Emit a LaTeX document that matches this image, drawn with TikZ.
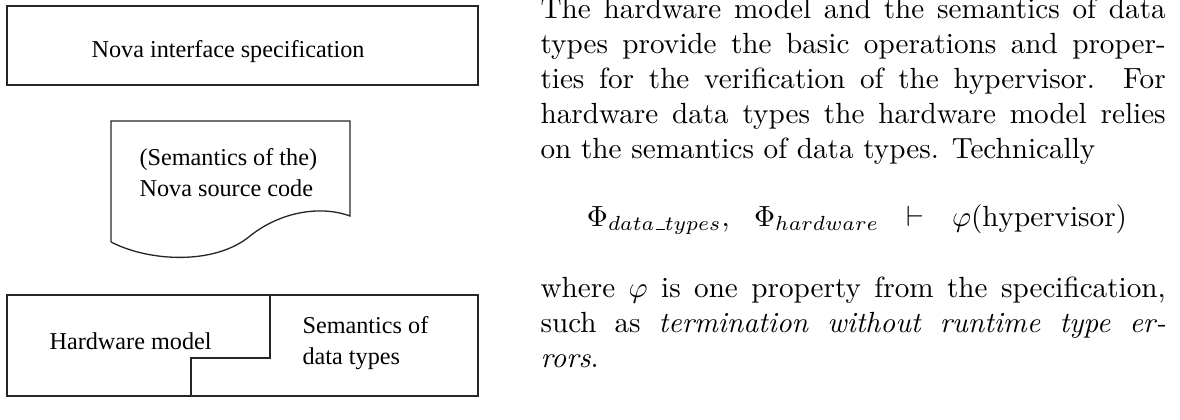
\documentclass[tikz,border=0pt]{standalone}
\usepackage{fontspec}
\newfontfamily\tmsfont{Liberation Serif}
\newcommand{\lowbar}{\kern0.06em\vbox{\hrule width 0.3em height 0.4pt}}
\begin{document}
\begin{tikzpicture}[x=0.3428pt,y=-0.3428pt,
  box/.style={draw=black!85, line width=0.45pt},
  figtext/.style={font=\tmsfont\fontsize{8.3}{10.6}\selectfont, inner sep=0pt, align=left},
  bodytext/.style={font=\fontsize{10}{12}\selectfont, inner sep=0pt, text width=214.3pt, align=justify}]
\useasboundingbox (0,0) rectangle (1180,419);
% top box
\draw[box] (7,6) rectangle (478,85);
\node[figtext, anchor=base west] (spec) at (91,57) {Nova interface specification};
% document shape
\draw[box] (111,242) -- (111,121) -- (350,121) -- (350,216)
  .. controls (320,205) and (280,212) .. (250,236)
  .. controls (215,265) and (150,262) .. (111,242);
\node[figtext, anchor=base west] (src) at (139,196) {(Semantics of the)\\Nova source code};
% bottom box
\draw[box] (7,295) rectangle (478,396);
\draw[box] (270,295) -- (270,358) -- (191,358) -- (191,396);
\node[figtext, anchor=base west] (hw) at (49,349) {Hardware model};
\node[figtext, anchor=base west] (sem) at (302,364) {Semantics of\\data types};
% right text
\node[bodytext, anchor=base west] (para1) at (540,18) {The hardware model and the semantics of data \linebreak types provide the basic operations and proper-\linebreak ties for the verification of the hypervisor. For \linebreak hardware data types the hardware model relies \linebreak on the semantics of data types. Technically};
\node[inner sep=0pt, anchor=base, font=\fontsize{10}{12}\selectfont] (formula) at (857,226) {$\Phi_{data\lowbar types},\ \ \Phi_{hardware}\ \ \vdash\ \ \varphi(\mathrm{hypervisor})$};
\node[bodytext, anchor=base west] (para2) at (540,297) {where $\varphi$ is one property from the specification, \linebreak such as \emph{termination without runtime type er-\linebreak rors}.};
\end{tikzpicture}
\end{document}
